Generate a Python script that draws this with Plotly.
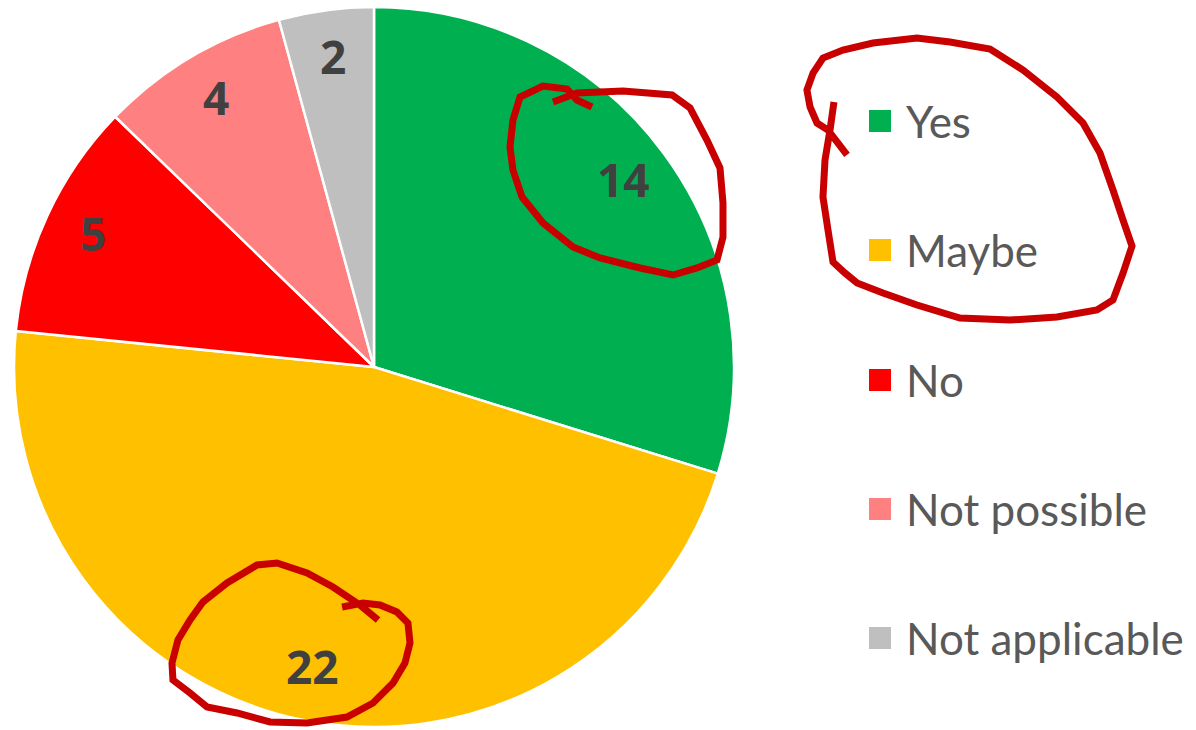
import math
import plotly.graph_objects as go

# Survey answers
labels = ['Yes', 'Maybe', 'No', 'Not possible', 'Not applicable']
counts = [14, 22, 5, 4, 2]
colors = ['#00B050', '#FFC000', '#FF0000', '#FF8080', '#BFBFBF']

W, H = 1196, 730

# pie geometry in pixels
CX, CY, R = 374, 367, 360
LABEL_R = 0.86

# Hand-drawn red circles (pixel points, converted to paper coords below)
scribbles = [
    [(553, 102), (577, 93), (623, 91), (672, 95), (690, 108), (707, 140),
     (720, 168), (723, 203), (723, 237), (717, 260), (697, 268), (673, 275),
     (640, 268), (600, 258), (573, 247), (543, 223), (522, 197), (513, 170),
     (510, 147), (513, 120), (520, 97), (543, 86), (567, 89), (577, 100),
     (592, 107)],
    [(847, 155), (828, 130), (817, 123), (810, 107), (807, 90), (813, 73),
     (823, 58), (843, 50), (873, 43), (917, 38), (950, 42), (990, 49),
     (1023, 70), (1057, 97), (1083, 123), (1100, 153), (1113, 190),
     (1123, 220), (1132, 246), (1123, 273), (1113, 300), (1097, 310),
     (1057, 317), (1010, 320), (960, 318), (917, 305), (883, 293),
     (857, 283), (845, 273), (833, 262), (828, 230), (823, 197), (825, 160),
     (830, 130), (834, 102)],
    [(342, 607), (363, 603), (380, 605), (397, 612), (408, 623), (410, 643),
     (405, 663), (393, 683), (373, 703), (347, 717), (307, 723), (270, 722),
     (237, 713), (207, 707), (190, 693), (173, 680), (172, 663), (178, 640),
     (190, 620), (203, 602), (227, 583), (257, 565), (277, 563), (307, 573),
     (333, 587), (360, 605), (378, 620)],
]


def to_path(pts):
    s = ''
    for i, (x, y) in enumerate(pts):
        s += ('M' if i == 0 else 'L') + f'{x / W:.4f},{1 - y / H:.4f} '
    return s


fig = go.Figure(go.Pie(
    labels=labels,
    values=counts,
    sort=False,
    direction='clockwise',
    rotation=0,
    marker=dict(colors=colors, line=dict(color='white', width=2.5)),
    textinfo='none',
    domain=dict(x=[(CX - R) / W, (CX + R) / W],
                y=[1 - (CY + R) / H, 1 - (CY - R) / H]),
    showlegend=False,
    hoverinfo='label+value+percent',
))

annotations = []
shapes = []

# value labels near the outer edge of each slice (like Excel's data labels)
total = sum(counts)
cum = 0
for v in counts:
    mid = (cum + v / 2) / total * 2 * math.pi
    cum += v
    px_ = CX + LABEL_R * R * math.sin(mid)
    py_ = CY - LABEL_R * R * math.cos(mid)
    annotations.append(dict(
        x=px_ / W, y=1 - (py_ - 4) / H, xref='paper', yref='paper',
        xanchor='center', yanchor='middle', showarrow=False,
        text=str(v),
        font=dict(family='Open Sans', size=46, color='#404040', weight=700),
    ))

# Legend drawn by hand so the rows can be spaced like the original
row_y = [121, 250, 380, 509, 638]
for lab, col, y in zip(labels, colors, row_y):
    shapes.append(dict(
        type='rect', xref='paper', yref='paper',
        x0=869 / W, x1=891 / W, y0=1 - (y + 11) / H, y1=1 - (y - 11) / H,
        fillcolor=col, line=dict(width=0),
    ))
    annotations.append(dict(
        x=904 / W, y=1 - y / H, xref='paper', yref='paper',
        xanchor='left', yanchor='middle', showarrow=False,
        text=lab, font=dict(family='Lato', size=44, color='#595959'),
    ))

for pts in scribbles:
    shapes.append(dict(
        type='path', xref='paper', yref='paper', path=to_path(pts),
        line=dict(color='#C80000', width=7),
    ))

fig.update_layout(
    width=W,
    height=H,
    margin=dict(l=0, r=0, t=0, b=0),
    paper_bgcolor='white',
    plot_bgcolor='white',
    shapes=shapes,
    annotations=annotations,
)

# drop the default 8px page margin so the figure fills the window
fig.write_html('out.html',
               config={'displayModeBar': False},
               post_script="document.body.style.margin='0';")
